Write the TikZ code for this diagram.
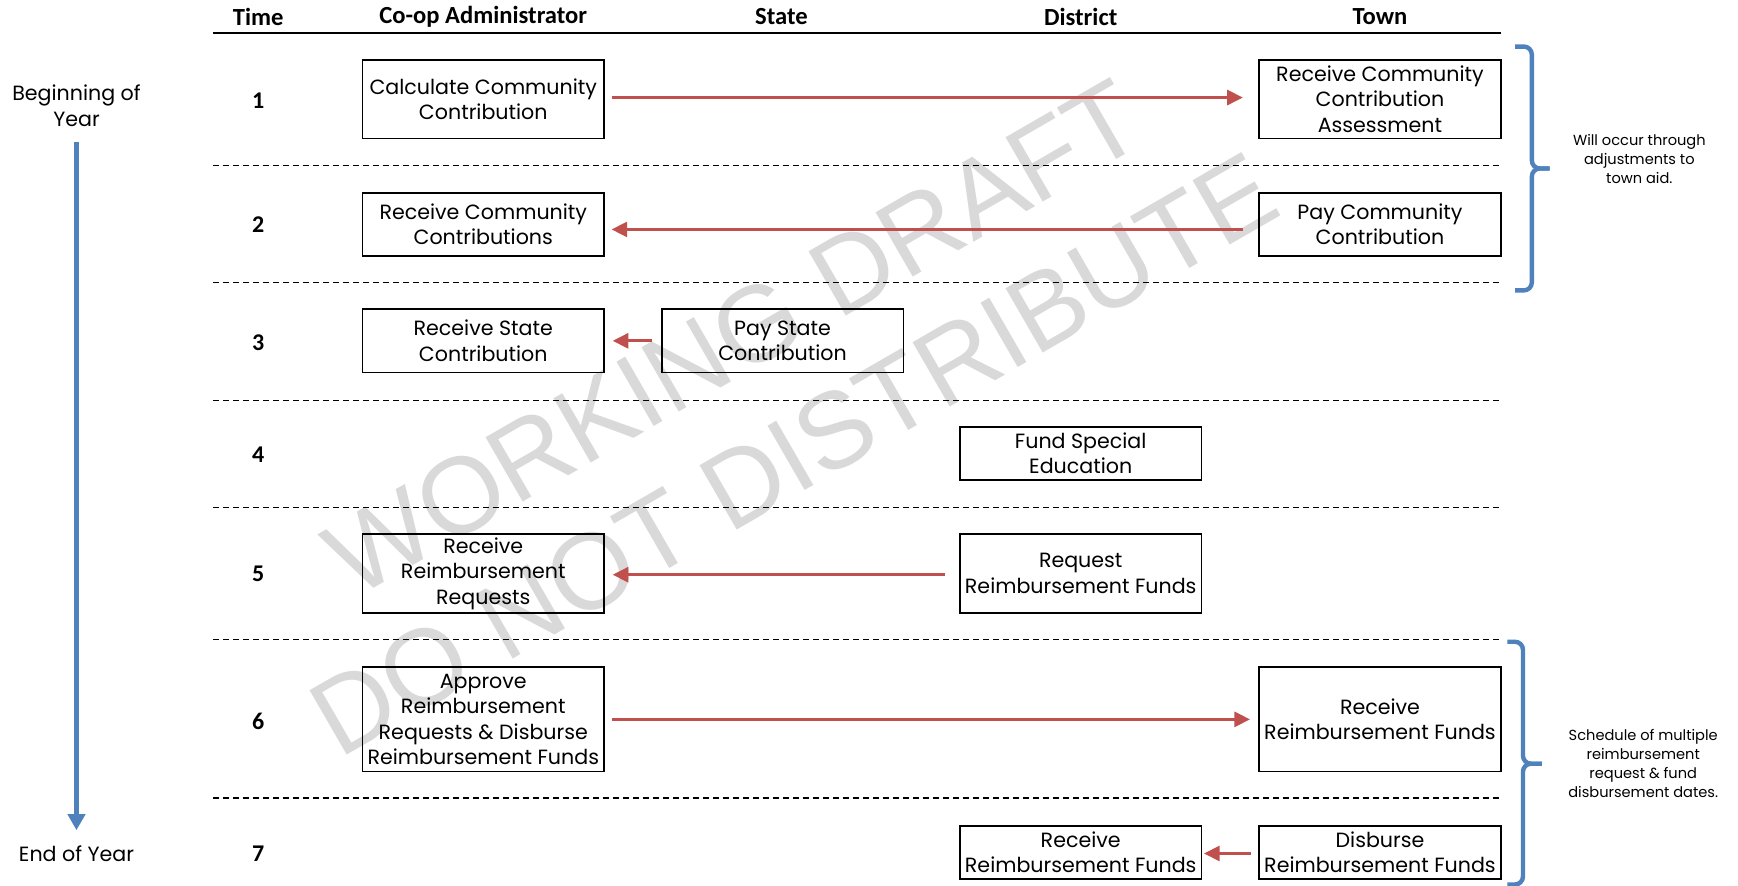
\documentclass[tikz,border=0pt]{standalone}
\usepackage{fontspec}
\setmainfont{Poppins}
\newfontfamily\hdfont{Carlito}
\newfontfamily\wmfont{Liberation Sans}
\usetikzlibrary{arrows.meta,calc}
\definecolor{arrred}{HTML}{C0504D}
\definecolor{tlblue}{HTML}{4F81BD}
\definecolor{wmgray}{HTML}{D9D9D9}
\begin{document}
\begin{tikzpicture}[x=0.5542pt,y=-0.5542pt,
  bodyfont/.style={font=\fontsize{10.3}{12.75}\selectfont},
  box/.style={draw=black, line width=0.85pt, minimum width=218*0.5542pt, inner sep=0pt, align=center, bodyfont},
  bh/.style={minimum height=#1*0.5542pt},
  hdr/.style={font=\hdfont\bfseries\fontsize{12.3}{14}\selectfont},
  num/.style={font=\hdfont\bfseries\fontsize{12}{14}\selectfont},
  rowsep/.style={line width=0.6pt, dash pattern=on 3pt off 2pt},
  flow/.style={draw=arrred, line width=1.4pt, -{Triangle[length=7.8pt,width=7.5pt]}},
  tline/.style={draw=tlblue, line width=2.4pt, -{Triangle[length=8pt,width=8.5pt]}},
  bracepath/.style={draw=tlblue, line width=2.2pt, rounded corners=4pt},
  note/.style={font=\fontsize{7.3}{9.5}\selectfont, align=center},
  side/.style={align=center, bodyfont},
  wm/.style={text=wmgray, font=\wmfont\fontsize{54}{64}\selectfont, rotate=30}
]
\fill[white] (0,0) rectangle (1568,799);
\useasboundingbox (0,0) rectangle (1568,799);

% watermark
\node[wm] (wm1) at (662,305) {WORKING DRAFT};
\node[wm] (wm2) at (716,410) {DO NOT DISTRIBUTE};

% header
\node[hdr] (hTime) at (233,15) {Time};
\node[hdr] (hCoop) at (436,15) {Co-op Administrator};
\node[hdr] (hState) at (705,15) {State};
\node[hdr] (hDist) at (975,15) {District};
\node[hdr] (hTown) at (1245,15) {Town};
\draw[line width=0.8pt] (192,30) -- (1354,30);

% row separators
\foreach \yy in {149,255,361,458,577,720}
  \draw[rowsep] (192,\yy) -- (1354,\yy);

% time numbers
\node[num] (n1) at (233,91) {1};
\node[num] (n2) at (233,203) {2};
\node[num] (n3) at (233,309) {3};
\node[num] (n4) at (233,410) {4};
\node[num] (n5) at (233,518) {5};
\node[num] (n6) at (233,651) {6};
\node[num] (n7) at (233,770) {7};

% boxes
\node[box,bh=71] (c1) at (436,89.5) {Calculate Community\\Contribution};
\node[box,bh=71] (t1) at (1245,89.5) {Receive Community\\Contribution\\Assessment};
\node[box,bh=57] (c2) at (436,202.5) {Receive Community\\Contributions};
\node[box,bh=57] (t2) at (1245,202.5) {Pay Community\\Contribution};
\node[box,bh=57] (c3) at (436,307.5) {Receive State\\Contribution};
\node[box,bh=57] (s3) at (706,307.5) {Pay State\\Contribution};
\node[box,bh=48] (d4) at (975,409) {Fund Special\\Education};
\node[box,bh=71] (c5) at (436,517.5) {Receive\\Reimbursement\\Requests};
\node[box,bh=71] (d5) at (975,517.5) {Request\\Reimbursement Funds};
\node[box,bh=94] (c6) at (436,649) {Approve\\Reimbursement\\Requests \& Disburse\\Reimbursement Funds};
\node[box,bh=94] (t6) at (1245,649) {Receive\\Reimbursement Funds};
\node[box,bh=48] (d7) at (975,769) {Receive\\Reimbursement Funds};
\node[box,bh=48] (t7) at (1245,769) {Disburse\\Reimbursement Funds};

% flows
\draw[flow] ($(c1.east)+(6,-1.5)$) -- ($(t1.west)+(-14,-1.5)$);
\draw[flow] ($(t2.west)+(-14,4.5)$) -- ($(c2.east)+(6,4.5)$);
\draw[flow] ($(s3.west)+(-8,0)$) -- ($(c3.east)+(7,0)$);
\draw[flow] ($(d5.west)+(-13,1)$) -- ($(c5.east)+(7,1)$);
\draw[flow] ($(c6.east)+(6,0)$) -- ($(t6.west)+(-7.5,0)$);
\draw[flow] ($(t7.west)+(-6.5,1)$) -- ($(d7.east)+(1.5,1)$);

% timeline
\node[side] (boy) at (69,95.5) {Beginning of\\Year};
\node[side] (eoy) at (69,770) {End of Year};
\coordinate (tltop) at (69,128);
\coordinate (tlbot) at (69,749);
\draw[tline] (tltop) -- (tlbot);

% braces
\draw[bracepath] (1367,42) -- (1382,42) -- (1382,152) -- (1398,152);
\draw[bracepath] (1398,152) -- (1382,152) -- (1382,262) -- (1367,262);
\node[note] (note1) at (1479,143.7) {Will occur through\\adjustments to\\town aid.};

\draw[bracepath] (1360,579) -- (1374,579) -- (1374,689) -- (1391,689);
\draw[bracepath] (1391,689) -- (1374,689) -- (1374,798) -- (1360,798);
\node[note] (note2) at (1482.5,689) {Schedule of multiple\\reimbursement\\request \& fund\\disbursement dates.};
\end{tikzpicture}
\end{document}
